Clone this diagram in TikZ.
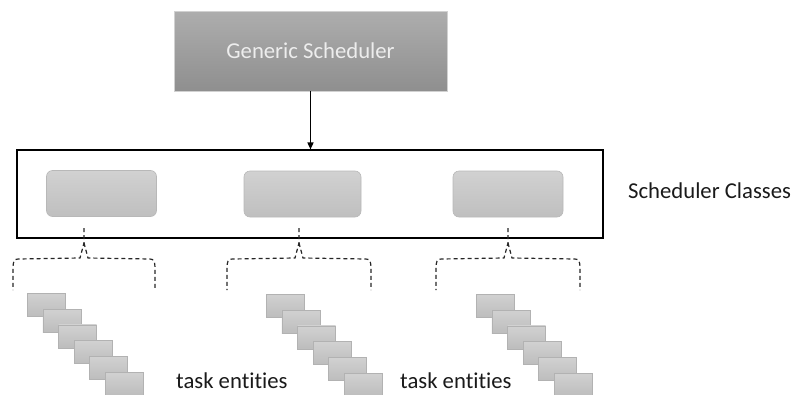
\documentclass[tikz,border=0pt]{standalone}
\usepackage{fontspec}
\setmainfont{Carlito}[Ligatures=NoCommon]
\usetikzlibrary{arrows.meta}
\definecolor{txt}{HTML}{1A1A1A}
\tikzset{
  gen/.style={draw=black!18, line width=0.8pt, top color=black!32, bottom color=black!44,
    minimum width=273pt, minimum height=80pt, text=white!93!black, inner sep=0pt,
    font=\fontsize{22.7}{27}\selectfont},
  classbox/.style={draw=black, line width=1.1pt, minimum width=586pt, minimum height=88pt, inner sep=0pt},
  inner/.style={draw=black!28, line width=0.6pt, rounded corners=6pt, top color=black!18, bottom color=black!25,
    minimum height=46pt, inner sep=0pt},
  task/.style={draw=black!30, line width=0.6pt, top color=black!18, bottom color=black!26,
    minimum width=38pt, minimum height=23pt, inner sep=0pt, anchor=north west},
  brace/.style={dashed, dash pattern=on 4pt off 3pt, line width=1.2pt, black!85},
  label/.style={text=txt, inner sep=0pt, anchor=base west, font=\fontsize{22.7}{27}\selectfont},
  conn/.style={line width=1.5pt, -{Triangle[length=7pt,width=6pt]}}
}
\begin{document}
\begin{tikzpicture}[x=1pt,y=-1pt]
\useasboundingbox (0,0) rectangle (796,394);
\node[gen] (gen) at (310.5,51) {Generic Scheduler};
\node[classbox] (classes) at (310,194) {};
\node[inner, minimum width=110pt] (c1) at (101.5,193.5) {};
\node[inner, minimum width=117pt] (c2) at (302.5,194) {};
\node[inner, minimum width=110pt] (c3) at (508,194) {};
\draw[conn] (gen.south) -- (gen.south |- classes.north);
\node[label] (sc) at (628,198) {Scheduler Classes};
% braces
\foreach \c/\l/\r [count=\k] in {84/13/155, 299/227/371, 508/436/580}{
  \coordinate (b\k) at (\c,228);
  \draw[brace] (b\k) -- (\c,243) -- ({\c-4},258) -- ({\l+5},259)
     .. controls ({\l+1},259) and (\l,262) .. (\l,268) -- (\l,290);
  \draw[brace] (\c,243) -- ({\c+4},258) -- ({\r-5},259)
     .. controls ({\r-1},259) and (\r,262) .. (\r,268) -- (\r,290);
}
% task stacks
\foreach \sx/\sy [count=\k] in {27/293, 266/294, 476/294}{
  \foreach \i in {0,...,5}{
    \node[task] (t\k-\i) at ({\sx+15.6*\i},{\sy+15.8*\i}) {};
  }
}
\node[label] (te1) at (176,388) {task entities};
\node[label] (te2) at (400,388) {task entities};
\end{tikzpicture}
\end{document}
